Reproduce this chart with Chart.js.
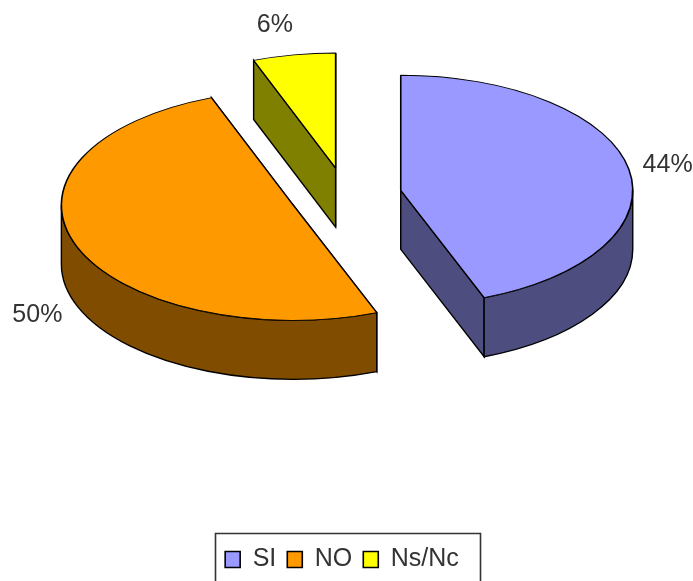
<!DOCTYPE html>
<html>
<head>
<meta charset="utf-8">
<style>
  html, body { margin: 0; padding: 0; background: #fff; }
  canvas { display: block; }
</style>
<script src="https://cdn.jsdelivr.net/npm/chart.js@4/dist/chart.umd.min.js"></script>
</head>
<body>
<canvas id="canvasPie" width="693" height="581"></canvas>
<script>
"use strict";

var categories = ['SI', 'NO', 'Ns/Nc'];
var values = [44.15, 50.1, 5.75];
var topColors = ['#9999FF', '#FF9900', '#FFFF00'];
var sideColors = ['#4D4D80', '#804D00', '#808000'];

// fake 3D look: squash the pie, pull the slices apart, extrude the walls
var pieCenterX = 345.7;
var pieCenterY = 195.4;
var squash = 0.496;
var explode = 56;
var depth = 59;
var labelRadius = 274;
var labelNudge = [[-2.5, 0], [0, 2], [-11.5, -9]];

function wallPath(ctx, arc) {
	var r = arc.outerRadius;
	var from = Math.max(arc.startAngle, 0);
	var to = Math.min(arc.endAngle, Math.PI);
	if (to <= from) return;
	ctx.beginPath();
	ctx.arc(0, 0, r, from, to);
	ctx.lineTo(Math.cos(to) * r, Math.sin(to) * r + depth / squash);
	ctx.arc(0, depth / squash, r, to, from, true);
	ctx.closePath();
	fillAndStroke(ctx);
}

function cutFace(ctx, arc, angle) {
	var r = arc.outerRadius;
	ctx.beginPath();
	ctx.moveTo(0, 0);
	ctx.lineTo(Math.cos(angle) * r, Math.sin(angle) * r);
	ctx.lineTo(Math.cos(angle) * r, Math.sin(angle) * r + depth / squash);
	ctx.lineTo(0, depth / squash);
	ctx.closePath();
	fillAndStroke(ctx);
}

function fillAndStroke(ctx) {
	ctx.fill();
	ctx.save();
	ctx.setTransform(1, 0, 0, 1, 0, 0);
	ctx.lineWidth = 1.4;
	ctx.strokeStyle = '#000';
	ctx.stroke();
	ctx.restore();
}

var pie3d = {
	id: 'pie3d',
	beforeDatasetDraw: function (chart, args) {
		var ctx = chart.ctx;
		args.meta.data.forEach(function (arc, i) {
			var mid = (arc.startAngle + arc.endAngle) / 2;
			ctx.save();
			ctx.translate(pieCenterX + Math.cos(mid) * explode, pieCenterY + Math.sin(mid) * explode * squash);
			ctx.scale(1, squash);
			ctx.fillStyle = sideColors[i];
			cutFace(ctx, arc, arc.startAngle);
			cutFace(ctx, arc, arc.endAngle);
			wallPath(ctx, arc);
			ctx.translate(-arc.x, -arc.y);
			arc.draw(ctx);
			ctx.restore();
		});
		return false;
	},
	afterDraw: function (chart) {
		var ctx = chart.ctx;
		ctx.save();
		// legend frame runs off the bottom of the picture, so no bottom line
		ctx.strokeStyle = '#333';
		ctx.lineWidth = 1.6;
		ctx.beginPath();
		ctx.moveTo(215.5, 581);
		ctx.lineTo(215.5, 533.5);
		ctx.lineTo(480.5, 533.5);
		ctx.lineTo(480.5, 581);
		ctx.stroke();

		ctx.fillStyle = '#333';
		ctx.font = '25px "Liberation Sans", Arial, sans-serif';
		ctx.textAlign = 'center';
		ctx.textBaseline = 'middle';
		chart.getDatasetMeta(0).data.forEach(function (arc, i) {
			var mid = (arc.startAngle + arc.endAngle) / 2;
			var dist = explode + labelRadius;
			var x = pieCenterX + Math.cos(mid) * dist + labelNudge[i][0];
			var y = pieCenterY + Math.sin(mid) * dist * squash + labelNudge[i][1];
			if (Math.sin(mid) > 0 && Math.cos(mid) < 0) y += depth;
			ctx.fillText(Math.round(values[i]) + '%', x, y);
		});
		ctx.restore();
	}
};

new Chart(document.getElementById('canvasPie'), {
	type: 'pie',
	data: {
		labels: categories,
		datasets: [{
			data: values,
			backgroundColor: topColors,
			borderColor: '#000',
			borderWidth: 1.6,
			radius: 232
		}]
	},
	options: {
		responsive: false,
		animation: false,
		layout: { padding: { right: 9, bottom: -1 } },
		plugins: {
			tooltip: { enabled: false },
			legend: {
				position: 'bottom',
				labels: {
					color: '#333',
					boxWidth: 15,
					boxHeight: 16,
					padding: 11,
					font: { family: '"Liberation Sans", Arial, sans-serif', size: 25 }
				}
			}
		}
	},
	plugins: [pie3d]
});
</script>
</body>
</html>
